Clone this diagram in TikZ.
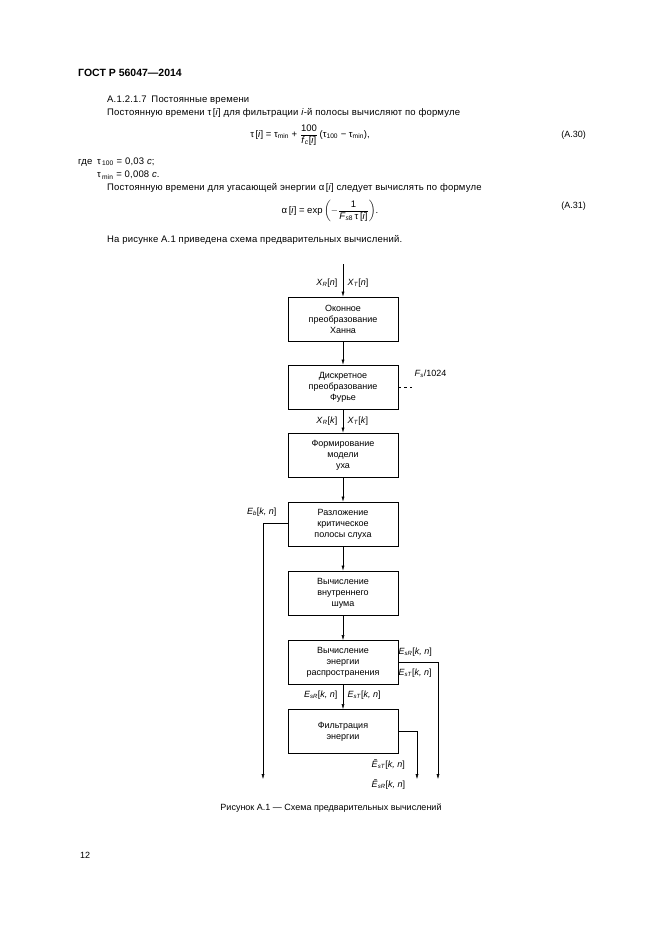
\documentclass[tikz,border=0pt]{standalone}
\usepackage{fontspec}
\setmainfont{Liberation Sans}
\usepackage{amsmath}
\usetikzlibrary{arrows.meta, positioning}
% signal label: name, index, argument
\newcommand{\sgl}[3]{\textit{#1}\textsubscript{\textit{#2}}[\textit{#3}]}
\newcommand{\sglt}[3]{\textit{\~{#1}}\textsubscript{\textit{#2}}[\textit{#3}]}
\begin{document}
\begin{tikzpicture}[x=1pt, y=-1pt, >={Latex[length=5pt,width=3pt]}, thin,
    every node/.style={font=\fontsize{9}{11}\selectfont}]
    % Define styles for blocks, labels and free ends
    \tikzset{block/.style={draw, rectangle, thick, minimum height=44pt, minimum width=110pt, align=center, inner sep=1pt}}
    \tikzset{txt/.style={anchor=west, inner sep=0pt, font=\fontsize{9.5}{11}\selectfont\addfontfeature{LetterSpace=2}}}
    \tikzset{end/.style={coordinate}}
    \useasboundingbox (0,0) rectangle (661,936);

    % Page text
    \node [anchor=west, inner sep=0pt, font=\bfseries\fontsize{10.5}{12}\selectfont] (head) at (78,73) {ГОСТ Р 56047—2014};
    \node [txt] (sec) at (107,100) {A.1.2.1.7\enspace Постоянные времени};
    \node [txt] (par1) at (107,113) {Постоянную времени τ\,[\textit{i}] для фильтрации \textit{i}-й полосы вычисляют по формуле};
    \node [font=\fontsize{9.5}{11}\selectfont] (eq1) at (310,135) {τ\,[\textit{i}] = τ\textsubscript{min} + $\dfrac{\text{100}}{\text{\textit{f}\textsubscript{\textit{c}}[\textit{i}]}}$\,(τ\textsubscript{100} − τ\textsubscript{min}),};
    \node [anchor=east, inner sep=0pt] (num1) at (586,135) {(A.30)};
    \node [txt] (where1) at (78,162) {где\enspace τ\textsubscript{\,100} = 0,03 \textit{с};};
    \node [txt] (where2) at (97,175) {τ\textsubscript{\,min} = 0,008 \textit{с}.};
    \node [txt] (par2) at (107,188) {Постоянную времени для угасающей энергии α\,[\textit{i}] следует вычислять по формуле};
    \node [font=\fontsize{9.5}{11}\selectfont] (eq2) at (330,211) {α\,[\textit{i}] = exp\,$\left(-\dfrac{\text{1}}{\text{\textit{F}\textsubscript{\textit{s}8}\,τ\,[\textit{i}]}}\right)$.};
    \node [anchor=east, inner sep=0pt] (num2) at (586,206) {(A.31)};
    \node [txt] (par3) at (107,240) {На рисунке А.1 приведена схема предварительных вычислений.};

    % Blocks
    \node [block] (hann) at (343,319) {Оконное\\преобразование\\Ханна};
    \node [block, below of=hann, node distance=68pt] (dft) {Дискретное\\преобразование\\Фурье};
    \node [block, below of=dft, node distance=68pt] (ear) {Формирование\\модели\\уха};
    \node [block, below of=ear, node distance=69pt] (band) {Разложение\\критическое\\полосы слуха};
    \node [block, below of=band, node distance=69pt] (noise) {Вычисление\\внутреннего\\шума};
    \node [block, below of=noise, node distance=69.5pt] (spread) {Вычисление\\энергии\\распространения};
    \node [block, below of=spread, node distance=69pt] (filt) {Фильтрация\\энергии};

    % Free ends
    \node [end] (in) at (343,264) {};
    \node [end] (fs) at (412,387) {};
    \node [end] (bcorner) at (263,523) {};
    \node [end] (bout) at (263,779) {};
    \node [end] (scorner) at (438,662) {};
    \node [end] (sout) at (438,779) {};
    \node [end] (fcorner) at (417,731) {};
    \node [end] (fout) at (417,779) {};

    % Draw edges
    \draw [->] (in) -- (hann);
    \draw [->] (hann) -- (dft);
    \draw [->] (dft) -- (ear);
    \draw [->] (ear) -- (band);
    \draw [->] (band) -- (noise);
    \draw [->] (noise) -- (spread);
    \draw [->] (spread) -- (filt);
    \draw [dashed] (dft.east) -- (fs);
    \draw [->] (band.west |- bcorner) -- (bcorner) -- (bout);
    \draw [->] (spread.east |- scorner) -- (scorner) -- (sout);
    \draw [->] (filt.east |- fcorner) -- (fcorner) -- (fout);

    % Signal labels
    \node [anchor=east] (xrn) at (341,283) {\sgl{X}{R}{n}};
    \node [anchor=west] (xtn) at (344,283) {\sgl{X}{T}{n}};
    \node [anchor=west] (fslab) at (411,374) {\textit{F}\textsubscript{\textit{s}}/1024};
    \node [anchor=east] (xrk) at (341,421) {\sgl{X}{R}{k}};
    \node [anchor=west] (xtk) at (344,421) {\sgl{X}{T}{k}};
    \node [anchor=east] (eb) at (280,512) {\sgl{E}{b}{k, n}};
    \node [anchor=west] (esr1) at (395,652) {\sgl{E}{sR}{k, n}};
    \node [anchor=west] (est1) at (395,673) {\sgl{E}{sT}{k, n}};
    \node [anchor=east] (esr2) at (341,695) {\sgl{E}{sR}{k, n}};
    \node [anchor=west] (est2) at (344,695) {\sgl{E}{sT}{k, n}};
    \node [anchor=west, inner sep=0.5pt] (fest) at (371,764) {\sglt{E}{sT}{k, n}};
    \node [anchor=west, inner sep=0.5pt] (fesr) at (371,784) {\sglt{E}{sR}{k, n}};

    % Caption and page number
    \node (cap) at (331,808) {Рисунок А.1 — Схема предварительных вычислений};
    \node [anchor=west, inner sep=0pt] (page) at (80,855) {12};
\end{tikzpicture}
\end{document}
